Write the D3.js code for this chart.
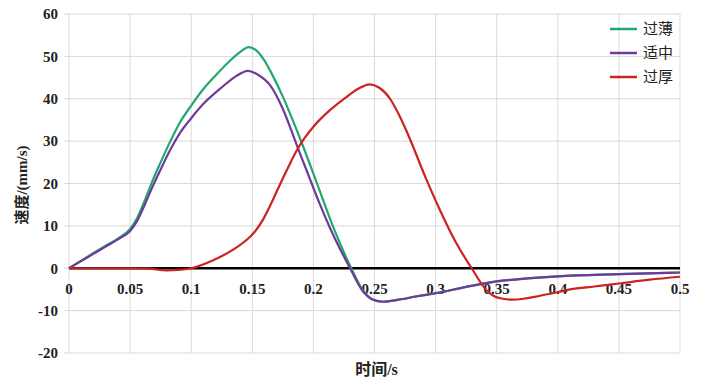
<!DOCTYPE html>
<html lang="en">
<head>
<meta charset="utf-8">
<script src="https://cdn.jsdelivr.net/npm/d3@7"></script>
<style>
  html, body { margin: 0; padding: 0; background: #fff; }
  svg { display: block; }
  .num { font-family: "Liberation Serif", "Times New Roman", serif; font-weight: bold; }
  .cjk { font-family: "Liberation Serif", "Noto Sans CJK SC", serif; }
</style>
</head>
<body>
<svg id="chart" width="720" height="381"></svg>
<script>
// ---- data ----
const seriesNames = ["过薄", "适中", "过厚"];
const seriesColors = ["#22a86c", "#6f3a9c", "#cc2222"];

const thinT = [0, 0.01, 0.02, 0.03, 0.04, 0.05, 0.056, 0.062, 0.068, 0.0745, 0.083, 0.091, 0.1, 0.11, 0.12, 0.13, 0.14, 0.147, 0.153, 0.16, 0.1645, 0.175, 0.183, 0.191, 0.2027, 0.216, 0.231, 0.24, 0.248, 0.257, 0.27, 0.285, 0.3, 0.325, 0.35, 0.375, 0.4, 0.45, 0.5];
const thinV = [0, 1.8, 3.6, 5.3, 7, 9.3, 12, 16, 20.4, 24.7, 30, 34.5, 38.4, 42.3, 45.5, 48.5, 51, 52.2, 51.5, 49, 46.7, 40.5, 35, 29.2, 20.2, 9.9, 0, -5, -7.3, -7.9, -7.4, -6.6, -5.9, -4.4, -3.1, -2.4, -1.9, -1.4, -1.0];

const midT = [0, 0.01, 0.02, 0.03, 0.04, 0.05, 0.056, 0.062, 0.068, 0.0745, 0.083, 0.091, 0.1, 0.11, 0.125, 0.135, 0.1465, 0.155, 0.1645, 0.175, 0.187, 0.1986, 0.205, 0.2136, 0.23, 0.24, 0.248, 0.257, 0.27, 0.285, 0.3, 0.325, 0.35, 0.375, 0.4, 0.45, 0.5];
const midV = [0, 1.7, 3.4, 5.1, 6.8, 8.8, 11.3, 15, 19, 23, 28, 32, 35.4, 38.8, 42.7, 45, 46.6, 45.6, 43.2, 37.6, 28.6, 20, 15.3, 9.5, 0, -5.2, -7.3, -7.9, -7.4, -6.6, -5.9, -4.4, -3.1, -2.4, -1.9, -1.4, -1.0];

const thickT = [0, 0.05, 0.065, 0.08, 0.09, 0.1, 0.118, 0.135, 0.145, 0.152, 0.159, 0.166, 0.173, 0.18, 0.186, 0.193, 0.2, 0.2135, 0.227, 0.237, 0.246, 0.254, 0.2627, 0.269, 0.276, 0.2927, 0.3036, 0.317, 0.3295, 0.342, 0.348, 0.355, 0.363, 0.372, 0.382, 0.394, 0.41, 0.43, 0.45, 0.475, 0.5];
const thickV = [0, 0, -0.1, -0.5, -0.4, 0, 1.9, 4.5, 6.6, 8.6, 11.6, 15.6, 20, 24.2, 27.6, 30.8, 33.4, 37.3, 40.4, 42.4, 43.4, 42.6, 40.0, 36.8, 32.5, 20.8, 13.7, 5.9, 0, -5.3, -6.6, -7.2, -7.4, -7.2, -6.7, -6.0, -5.0, -4.3, -3.6, -2.7, -2.0];

const xTicks = [0, 0.05, 0.1, 0.15, 0.2, 0.25, 0.3, 0.35, 0.4, 0.45, 0.5];
const xTickLabels = ["0", "0.05", "0.1", "0.15", "0.2", "0.25", "0.3", "0.35", "0.4", "0.45", "0.5"];
const yTicks = [-20, -10, 0, 10, 20, 30, 40, 50, 60];
const xTitle = "时间/s";
const yTitle = "速度/(mm/s)";

// ---- layout ----
const svg = d3.select("#chart");
const x = d3.scaleLinear().domain([0, 0.5]).range([69, 680]);
const y = d3.scaleLinear().domain([-20, 60]).range([353, 14]);

// gridlines
const grid = svg.append("g");
grid.selectAll("line.h").data(yTicks).enter().append("line")
  .attr("x1", x(0) - 5).attr("x2", x(0.5))
  .attr("y1", d => y(d)).attr("y2", d => y(d))
  .attr("stroke", "#d9d9d9").attr("stroke-width", 1);
grid.selectAll("line.v").data(xTicks).enter().append("line")
  .attr("x1", d => x(d)).attr("x2", d => x(d))
  .attr("y1", y(60)).attr("y2", y(-20))
  .attr("stroke", "#d9d9d9").attr("stroke-width", 1);

// y tick labels
svg.append("g").selectAll("text").data(yTicks).enter().append("text")
  .attr("class", "num")
  .attr("x", 58).attr("y", d => y(d)).attr("dy", "0.35em")
  .attr("text-anchor", "end")
  .attr("font-size", 15)
  .attr("fill", "#222")
  .text(d => d);

// x tick labels (under zero line)
svg.append("g").selectAll("text").data(xTicks).enter().append("text")
  .attr("class", "num")
  .attr("x", d => x(d)).attr("y", y(0) + 26)
  .attr("text-anchor", "middle")
  .attr("font-size", 15)
  .attr("fill", "#222")
  .text((d, i) => xTickLabels[i]);

// series
const line = d3.line().x(d => x(d[0])).y(d => y(d[1])).curve(d3.curveMonotoneX);
const series = [
  thinT.map((t, i) => [t, thinV[i]]),
  midT.map((t, i) => [t, midV[i]]),
  thickT.map((t, i) => [t, thickV[i]])
];

// zero axis line
svg.append("line")
  .attr("x1", x(0)).attr("x2", x(0.5))
  .attr("y1", y(0)).attr("y2", y(0))
  .attr("stroke", "#000").attr("stroke-width", 2.5);

series.forEach((s, i) => {
  svg.append("path").datum(s)
    .attr("d", line)
    .attr("fill", "none")
    .attr("stroke", seriesColors[i])
    .attr("stroke-width", 2.2)
    .attr("stroke-linejoin", "round");
});

// legend
const lg = svg.append("g");
seriesNames.forEach((n, i) => {
  const yy = 29 + i * 24;
  lg.append("line").attr("x1", 610).attr("x2", 637).attr("y1", yy).attr("y2", yy)
    .attr("stroke", seriesColors[i]).attr("stroke-width", 2.5);
  lg.append("text").attr("class", "cjk").attr("x", 643).attr("y", yy).attr("dy", "0.36em")
    .attr("font-size", 15).attr("fill", "#222")
    .text(n);
});

// axis titles
svg.append("text").attr("class", "cjk")
  .attr("x", x(0.25) + 2).attr("y", 375)
  .attr("text-anchor", "middle")
  .attr("font-weight", "bold").attr("font-size", 16)
  .attr("fill", "#222")
  .text(xTitle);

svg.append("text").attr("class", "cjk")
  .attr("transform", "translate(27,185) rotate(-90)")
  .attr("text-anchor", "middle")
  .attr("font-weight", "bold").attr("font-size", 15)
  .attr("fill", "#222")
  .text(yTitle);
</script>
</body>
</html>
